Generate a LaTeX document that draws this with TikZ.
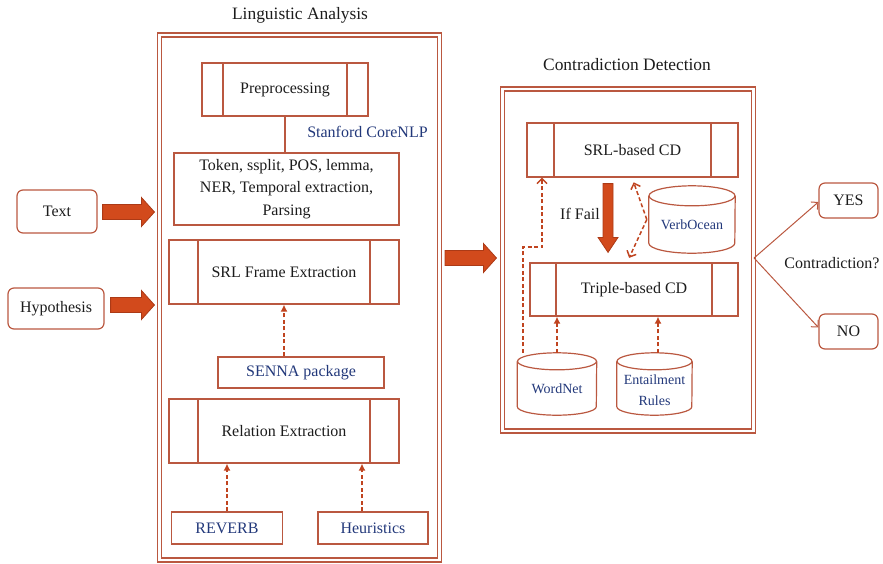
\documentclass[tikz,border=0pt]{standalone}
\usepackage{fontspec}
\setmainfont{Liberation Serif}
\usetikzlibrary{arrows.meta,calc}

\definecolor{edge}{RGB}{186,88,64}
\definecolor{dashc}{RGB}{192,68,32}
\definecolor{fatfill}{RGB}{210,74,28}
\definecolor{fatline}{RGB}{172,58,22}
\definecolor{tool}{RGB}{34,56,122}
\definecolor{ink}{RGB}{28,28,28}

% horizontal block arrow between two points (tip at the second)
\newcommand\fatarrowh[2]{%
  \path[fat] let \p1=(#1), \p2=(#2) in
    (\x1,\y1+7.5pt) -- (\x2-13pt,\y1+7.5pt) -- (\x2-13pt,\y1+14.5pt) -- (\x2,\y1)
    -- (\x2-13pt,\y1-14.5pt) -- (\x2-13pt,\y1-7.5pt) -- (\x1,\y1-7.5pt) -- cycle;}
% downward block arrow
\newcommand\fatarrowv[2]{%
  \path[fat] let \p1=(#1), \p2=(#2) in
    (\x1-5pt,\y1) -- (\x1-5pt,\y2+15pt) -- (\x1-10pt,\y2+15pt) -- (\x1,\y2)
    -- (\x1+10pt,\y2+15pt) -- (\x1+5pt,\y2+15pt) -- (\x1+5pt,\y1) -- cycle;}
% database drum: name, centre x, top y, half width, height, rim radius, text, text shift
\newcommand\drum[8]{%
  \node[inner sep=0, minimum width={2*#4pt}, minimum height={#5pt},
        label={[dbtext, yshift=-#8pt]center:#7}] (#1) at ({#2},{#3+#5/2}) {};
  \draw[boxline] (#1.north) ++(0,#6) ellipse[x radius=#4pt, y radius=#6pt];
  \draw[boxline] ($(#1.north west)+(0,#6)$) -- ($(#1.south west)+(0,-#6)$)
    arc[start angle=180, end angle=360, x radius=#4pt, y radius=#6pt]
    -- ($(#1.north east)+(0,#6)$);}

\begin{document}
\begin{tikzpicture}[x=1pt, y=-1pt,
  every node/.style={text=ink, font=\fontsize{16}{22.5}\selectfont},
  boxline/.style={draw=edge, line width=1.2pt},
  box/.style={boxline, inner sep=0, align=center},
  procbox/.style={box, path picture={
      \draw[boxline] ([xshift=#1pt]path picture bounding box.north west)
                  -- ([xshift=#1pt]path picture bounding box.south west);
      \draw[boxline] ([xshift=-#1pt]path picture bounding box.north east)
                  -- ([xshift=-#1pt]path picture bounding box.south east);}},
  toolbox/.style={box, text=tool},
  ioBox/.style={box, rounded corners=6pt},
  frame/.style={draw=edge, line width=1.1pt, double=white, double distance=2.9pt},
  title/.style={font=\fontsize{17.4}{20}\selectfont},
  dbtext/.style={text=tool, font=\fontsize{14}{21}\selectfont, align=center},
  uselink/.style={draw=dashc, line width=1.5pt, dash pattern=on 4pt off 2.5pt,
                  -{Latex[length=7pt,width=7pt]}},
  openlink/.style={draw=dashc, line width=1.5pt, dash pattern=on 4pt off 2.5pt,
                  -{Straight Barb[length=5pt,width=10pt]}},
  decide/.style={draw=edge, line width=1pt, -{Straight Barb[length=5pt,width=10pt]}},
  fat/.style={fill=fatfill, draw=fatline, line width=0.8pt}]

\useasboundingbox (0,0) rectangle (883,563);

% ---- Linguistic Analysis ----
\node[title] at (300,15) {Linguistic Analysis};
\node[frame, minimum width=280pt, minimum height=525pt] (la) at (299.5,297.5) {};

\node[procbox=21, minimum width=166pt, minimum height=53pt] (pre) at (285,89.5) {Preprocessing};
\node[box, minimum width=225pt, minimum height=72pt] (tok) at (286.5,189)
  {Token, ssplit, POS, lemma,\\NER, Temporal extraction,\\Parsing};
\node[text=tool] (corenlp) at (367.5,132) {Stanford CoreNLP};
\node[procbox=29, minimum width=230pt, minimum height=64pt] (srl) at (284,272) {SRL Frame Extraction};
\node[toolbox, minimum width=166pt, minimum height=31pt] (senna) at (301,372.5) {SENNA package};
\node[procbox=29, minimum width=230pt, minimum height=64pt] (rel) at (284,431) {Relation Extraction};
\node[toolbox, minimum width=111pt, minimum height=32pt] (reverb) at (227,528) {REVERB};
\node[toolbox, minimum width=110pt, minimum height=32pt] (heur) at (373,528) {Heuristics};

\draw[boxline] (pre.south) -- (pre.south |- tok.north);
\draw[uselink] (srl.south |- senna.north) -- (srl.south);
\draw[uselink] (reverb.north) -- (reverb.north |- rel.south);
\draw[uselink] ([xshift=-11pt]heur.north) -- ([xshift=-11pt]heur.north |- rel.south);

% ---- inputs ----
\node[ioBox, minimum width=80pt, minimum height=43pt] (text) at (57,211.5) {Text};
\node[ioBox, minimum width=96pt, minimum height=41pt] (hyp) at (56,308.5) {Hypothesis};
\coordinate (t1) at ($(text.east)+(5,0.5)$);
\coordinate (t2) at ($(text.east -| la.west)+(-4.5,0.5)$);
\fatarrowh{t1}{t2}
\coordinate (h1) at ($(hyp.east)+(6,-3.5)$);
\coordinate (h2) at ($(hyp.east -| la.west)+(-4.5,-3.5)$);
\fatarrowh{h1}{h2}

% ---- Contradiction Detection ----
\node[title] at (627,65) {Contradiction Detection};
\node[frame, minimum width=251pt, minimum height=342pt] (cd) at (628,260) {};
\coordinate (m1) at ($(la.east |- cd.west)+(5,-2)$);
\coordinate (m2) at ($(cd.west)+(-5.5,-2)$);
\fatarrowh{m1}{m2}

\node[procbox=27, minimum width=211pt, minimum height=54pt] (srlcd) at (632.5,150) {SRL-based CD};
\node[procbox=26, minimum width=208pt, minimum height=53pt] (tcd) at (634,289.5) {Triple-based CD};

\coordinate (f1) at ([xshift=-24.5pt, yshift=-6pt]srlcd.south);
\coordinate (f2) at ([xshift=-26pt, yshift=10pt]tcd.north);
\fatarrowv{f1}{f2}
\node (iffail) at (580,214) {If Fail};

\drum{vo}{692}{186}{43}{67}{10}{VerbOcean}{5.5}
\drum{wn}{557}{353}{39.5}{62}{8.5}{WordNet}{5}
\drum{er}{654.5}{353}{37.5}{62}{8.5}{Entailment\\Rules}{6}

\draw[openlink, shorten >=5pt] ([xshift=-2pt]vo.west) -- ([xshift=-0.5pt]srlcd.south);
\draw[openlink, shorten >=5pt] ([xshift=-2pt]vo.west) -- ([xshift=-7pt]tcd.north);
\draw[uselink] (wn.north) -- (wn.north |- tcd.south);
\draw[uselink] ([xshift=3.5pt]er.north) -- ([xshift=3.5pt]er.north |- tcd.south);
\coordinate (wnL) at ([xshift=5.5pt]wn.north west);
\coordinate (bend) at (542,247);
\draw[openlink] (wnL) |- (bend) -- (bend |- srlcd.south);

% ---- decision ----
\node[ioBox, minimum width=59pt, minimum height=35pt] (yes) at (848.5,200.5) {YES};
\node[ioBox, minimum width=59pt, minimum height=35pt] (no) at (848.5,331.5) {NO};
\node (question) at (832,263) {Contradiction?};
\draw[decide] ([yshift=2pt]cd.east) -- ([yshift=-1.5pt]yes.west);
\draw[decide] ([yshift=2pt]cd.east) -- ([yshift=4pt]no.west);
\end{tikzpicture}
\end{document}
